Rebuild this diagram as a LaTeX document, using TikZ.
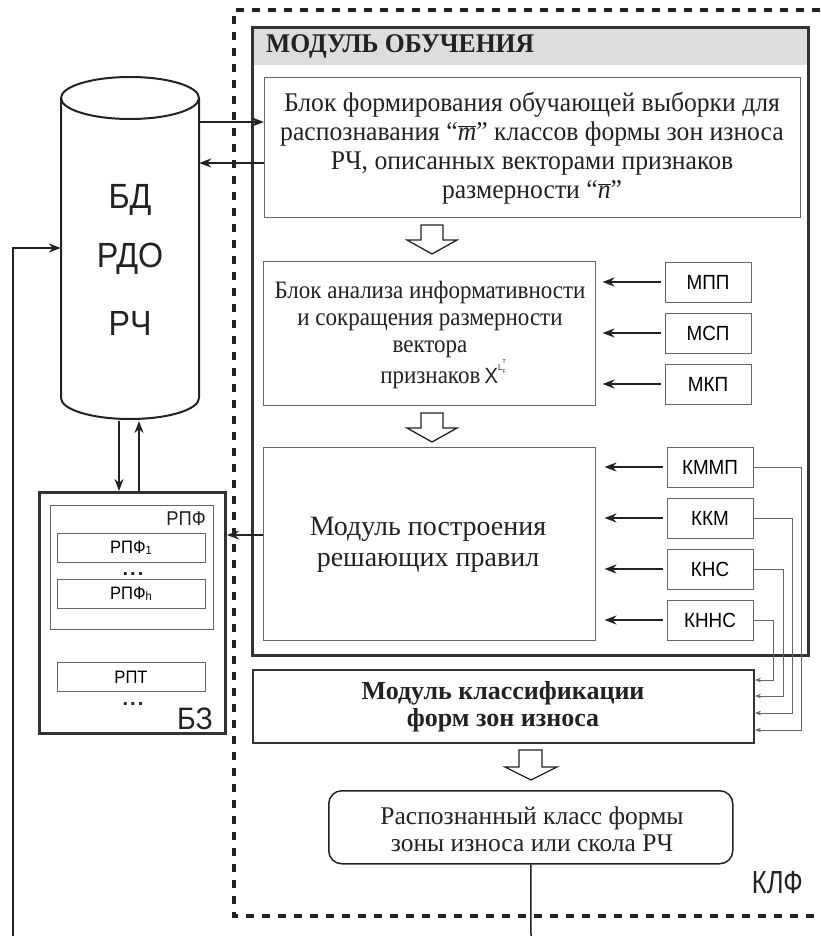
\documentclass[tikz,border=0pt]{standalone}
\usepackage{fontspec}
\setmainfont{Liberation Serif}
\setsansfont{Liberation Sans}
\newfontfamily\serifA[FakeStretch=0.95]{Liberation Serif}
\newfontfamily\serifB[FakeStretch=0.92]{Liberation Serif}
\newfontfamily\csans[FakeStretch=0.92]{Liberation Sans}
\newfontfamily\nsans[FakeStretch=0.8]{Liberation Sans}
\usetikzlibrary{arrows.meta,calc}
\definecolor{ink}{HTML}{222222}
\definecolor{frame}{HTML}{333333}
\definecolor{thin}{HTML}{666666}
\definecolor{hdr}{HTML}{DCDDDD}
\begin{document}
\begin{tikzpicture}[x=1pt,y=-1pt,
  box/.style={draw=thin,line width=1pt,fill=white,inner sep=0pt},
  smallbox/.style={draw=thin,line width=1pt,inner sep=0pt,minimum width=86pt,minimum height=40pt,font=\csans\fontsize{20.5}{20.5}\selectfont},
  heavy/.style={draw=frame,line width=3pt},
  big/.style={-{Stealth[length=12pt,width=9pt]},line width=2.5pt,draw=ink},
  small/.style={-{Stealth[length=6pt,width=4.5pt]},line width=0.8pt,draw=thin},
  hollow/.style={draw=ink,line width=1.3pt,fill=white},
  txt/.style={inner sep=0pt,align=center,text=ink},
  dots/.style={inner sep=0pt,anchor=base,text=ink,font=\sffamily\bfseries\fontsize{20}{20}\selectfont}
]
\useasboundingbox (0,0) rectangle (820,936);
% outer dashed frame
\draw[ink,line width=4pt,dash pattern=on 8pt off 8pt] (820,10) -- (234,10) -- (234,916) -- (820,916);
% learning module
\fill[hdr] (252,28) rectangle (808,65);
\draw[heavy] (252,28) rectangle (808,655);
\node[txt,anchor=west,font=\serifA\bfseries\fontsize{27}{27}\selectfont] (hdrtxt) at (266,46) {МОДУЛЬ ОБУЧЕНИЯ};
% block 1
\node[box,minimum width=536pt,minimum height=140pt,anchor=north west] (b1) at (264,77) {};
\node[txt,font=\serifA\fontsize{27}{29}\selectfont] (b1t) at (532,148) {Блок формирования обучающей выборки для\\распознавания “$\overline{\mbox{\textit{m}}}$” классов формы зон износа\\РЧ, описанных векторами признаков\\размерности “$\overline{\mbox{\textit{n}}}$”};
% block 2
\node[box,minimum width=332pt,minimum height=144pt,anchor=north west] (b2) at (263,261) {};
\node[txt,font=\serifB\fontsize{25}{27}\selectfont] (b2t) at (430,335) {Блок анализа информативности\\и сокращения размерности\\вектора\\\hspace*{26pt}признаков\,{\csans\fontsize{22}{22}\selectfont X}\raisebox{13pt}{\csans\fontsize{9}{9}\selectfont L}\raisebox{10pt}{\rlap{\csans\fontsize{5.5}{5.5}\selectfont F}}\raisebox{20pt}{\csans\fontsize{5.5}{5.5}\selectfont T}};
% block 3
\node[box,minimum width=332pt,minimum height=193pt,anchor=north west] (b3) at (263,447) {};
\node[txt,font=\fontsize{28}{31}\selectfont] (b3t) at (428,545) {Модуль построения\\решающих правил};
% small boxes
\node[smallbox] (mpp) at (708,282) {МПП};
\node[smallbox] (msp) at (708,333) {МСП};
\node[smallbox] (mkp) at (708,384) {МКП};
\node[smallbox] (kmmp) at (710,467) {КММП};
\node[smallbox] (kkm) at (710,518) {ККМ};
\node[smallbox] (kns) at (710,569) {КНС};
\node[smallbox] (knns) at (710,620) {КННС};
\foreach \n in {mpp,msp,mkp,kmmp,kkm,kns,knns}{
  \draw[big] ($(\n.west)+(-4,0)$) -- ++(-58,0);
}
% hollow arrows
\draw[hollow] (421,225) -- (443,225) -- (443,240) -- (457,240) -- (432,254) -- (407,240) -- (421,240) -- cycle;
\draw[hollow] (421,413) -- (443,413) -- (443,428) -- (457,428) -- (432,442) -- (407,428) -- (421,428) -- cycle;
% classification
\node[draw=frame,line width=2pt,fill=white,minimum width=501pt,minimum height=73pt,anchor=north west,inner sep=0pt] (cls) at (252,669) {};
\node[txt,font=\bfseries\fontsize{26}{27}\selectfont] (clst) at (503,707) {Модуль классификации\\форм зон износа};
\draw[hollow] (519,750) -- (542,750) -- (542,767) -- (557,767) -- (531,780) -- (505,767) -- (519,767) -- cycle;
\node[draw=ink,line width=1.5pt,rounded corners=13pt,minimum width=404pt,minimum height=73pt,anchor=north west,inner sep=0pt] (res) at (328,790) {};
\node[txt,font=\fontsize{25.5}{27}\selectfont] (rest) at (532,829) {Распознанный класс формы\\зоны износа или скола РЧ};
\node[txt,font=\nsans\fontsize{32}{32}\selectfont,anchor=east] (klf) at (803,883) {КЛФ};
% connectors to classification
\draw[small] (kmmp.east) -- (801,467) -- (801,730) -- (cls.east |- 0,730);
\draw[small] (kkm.east) -- (792,518) -- (792,713) -- (cls.east |- 0,713);
\draw[small] (kns.east) -- (783,569) -- (783,696) -- (cls.east |- 0,696);
\draw[small] (knns.east) -- (773,620) -- (773,680) -- (cls.east |- 0,680);
% database cylinder
\draw[ink,line width=2pt,fill=white] (61,98) -- (61,398) arc[start angle=180,end angle=360,x radius=69pt,y radius=21pt] -- (199,98);
\draw[ink,line width=2pt] (130,98) ellipse[x radius=69pt,y radius=21pt];
\node[inner sep=0pt,minimum width=138pt,minimum height=300pt] (db) at (130,260) {};
\node[txt,font=\csans\fontsize{35}{35}\selectfont] (db1) at (130,200) {БД};
\node[txt,font=\csans\fontsize{35}{35}\selectfont] (db2) at (130,259) {РДО};
\node[txt,font=\csans\fontsize{35}{35}\selectfont] (db3) at (130,323) {РЧ};
\draw[big] (db.east |- 0,122) -- (b1.west |- 0,122);
\draw[big] (b1.west |- 0,163) -- (db.east |- 0,163);
% knowledge base
\node[heavy,minimum width=186pt,minimum height=241pt,anchor=north west,inner sep=0pt] (bz) at (38,491) {};
\node[draw=thin,line width=1pt,minimum width=163pt,minimum height=124pt,anchor=north west,inner sep=0pt] (rpf) at (50,505) {};
\node[txt,font=\csans\fontsize{20}{20}\selectfont,anchor=east] (rpfl) at (206,519) {РПФ};
\node[draw=thin,line width=1pt,minimum width=148pt,minimum height=29pt,inner sep=0pt,font=\csans\fontsize{18}{18}\selectfont] (rpf1) at (131,548) {РПФ\raisebox{-1pt}{\fontsize{12}{12}\selectfont 1}};
\node[dots] (d1) at (133,575) {.\hspace{2pt}.\hspace{2pt}.};
\node[draw=thin,line width=1pt,minimum width=148pt,minimum height=29pt,inner sep=0pt,font=\csans\fontsize{18}{18}\selectfont] (rpfh) at (131,594) {РПФ\raisebox{-1pt}{\fontsize{12}{12}\selectfont h}};
\node[draw=thin,line width=1pt,minimum width=148pt,minimum height=29pt,inner sep=0pt,font=\csans\fontsize{18}{18}\selectfont] (rpt) at (131,677) {РПТ};
\node[dots] (d2) at (133,705) {.\hspace{2pt}.\hspace{2pt}.};
\node[txt,font=\csans\fontsize{31}{31}\selectfont,anchor=east] (bzl) at (213,719) {БЗ};
\draw[big] (b3.west |- 0,535) -- (bz.east |- 0,535);
\draw[big] (119,421) -- (bz.north -| 119,0);
\draw[big] (bz.north -| 139,0) -- (139,421);
% feedback lines
\coordinate (fb) at (13,936);
\coordinate (out) at (531,936);
\draw[ink,line width=2pt,-{Stealth[length=12pt,width=9pt]}] (fb) -- (13,248) -- (db.west |- 0,248);
\draw[ink,line width=1.5pt] (res.south) -- (out);
\end{tikzpicture}
\end{document}
